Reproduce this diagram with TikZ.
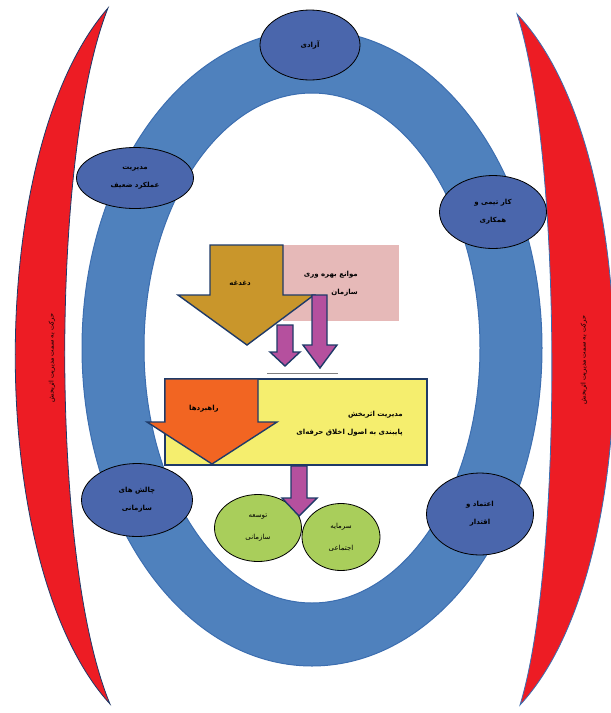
\documentclass[tikz,border=0pt]{standalone}
\usepackage{fontspec}
\usepackage{tikz}
\usetikzlibrary{shapes,shapes.geometric}
\newfontfamily\farsi[Script=Arabic]{DejaVu Sans}
\TeXXeTstate=1
\newcommand{\fatext}[1]{\beginR #1\endR}
\definecolor{redband}{HTML}{ED1C24}
\definecolor{redline}{HTML}{1F3A68}
\definecolor{ringblue}{HTML}{4F81BD}
\definecolor{ringline}{HTML}{3C6EB0}
\definecolor{bubbleblue}{HTML}{4A66AC}
\definecolor{bubblegreen}{HTML}{A9CE5B}
\definecolor{pinkbox}{HTML}{E6B9B8}
\definecolor{goldfill}{HTML}{C9962B}
\definecolor{orangefill}{HTML}{F26522}
\definecolor{yellowbox}{HTML}{F5EE6E}
\definecolor{magentafill}{HTML}{B5509E}
\definecolor{arrowline}{HTML}{1F3A68}

\begin{document}
\begin{tikzpicture}[x=1pt, y=-1pt,
		bubble/.style={ellipse, draw=black, line width=0.8pt, fill=bubbleblue, inner sep=0pt, align=center, font=\farsi\bfseries\fontsize{7}{18}\selectfont},
		greenbubble/.style={bubble, fill=bubblegreen, font=\farsi\fontsize{7}{22}\selectfont},
		blockarrow/.style={draw=arrowline, line width=1.4pt, line join=miter},
		fatag/.style={font=\farsi\bfseries\fontsize{7}{18}\selectfont, align=right, inner sep=0pt},
		sidetext/.style={font=\farsi\fontsize{6.5}{7}\selectfont, rotate=90, inner sep=0pt}]
		\useasboundingbox (0,0) rectangle (611,713);
		
		% red bands
		\draw[fill=redband, draw=redline, line width=0.8pt] (108,8) .. controls (-16,150) and (-16,566) .. (110,704) .. controls (50,560) and (50,155) .. (108,8) -- cycle;
		\draw[fill=redband, draw=ringline, line width=0.8pt] (517,14) .. controls (646,150) and (646,570) .. (520,705) .. controls (563,565) and (563,155) .. (517,14) -- cycle;
		\node[sidetext] (s1) at (52,358) {\fatext{حرکت به سمت مدیریت اثربخش}};
		\node[sidetext] (s2) at (584,360) {\fatext{حرکت به سمت مدیریت اثربخش}};
		
		% ring
		\draw[fill=ringblue, draw=ringline, line width=1pt, even odd rule] (312,348) ellipse [x radius=230pt, y radius=318pt] (312,348) ellipse [x radius=168pt, y radius=255pt];
		
		\node[bubble, minimum width=100pt, minimum height=70pt] (e1) at (310,45) {\fatext{آزادی}};
		\node[bubble, minimum width=117pt, minimum height=61pt] (e2) at (135,178) {\fatext{مدیریت}\\\fatext{عملکرد ضعیف}};
		\node[bubble, minimum width=107pt, minimum height=73pt] (e3) at (493,212) {\fatext{کار تیمی و}\\\fatext{همکاری}};
		\node[bubble, minimum width=111pt, minimum height=73pt] (e4) at (137,500) {\fatext{چالش های}\\\fatext{سازمانی}};
		\node[bubble, minimum width=107pt, minimum height=82pt] (e5) at (480,514) {\fatext{اعتماد و}\\\fatext{اقتدار}};
		
		% upper boxes
		\node[fill=pinkbox, minimum width=116pt, minimum height=76pt, inner sep=0pt] (pb) at (341,283) {};
		\node[fatag, anchor=east] (pt) at (358,284) {\fatext{موانع بهره وری}\\\fatext{سازمان}};
		\draw[blockarrow, fill=goldfill] (210,245) -- (283,245) -- (283,295) -- (314,295) -- (247,345) -- (178,295) -- (210,295) -- cycle;
		\node[fatag] (dg) at (240,283) {\fatext{دغدغه}};
		
		% lower box
		\node[draw=arrowline, line width=1.4pt, fill=yellowbox, minimum width=262pt, minimum height=86pt, inner sep=0pt] (yb) at (296,422) {};
		\draw[blockarrow, fill=orangefill] (165,379) -- (258,379) -- (258,422) -- (277,422) -- (212,464) -- (147,422) -- (165,422) -- cycle;
		\node[fatag] (rh) at (204,409) {\fatext{راهبردها}};
		\node[fatag, anchor=east] (yt) at (403,424) {\fatext{مدیریت اثربخش}\\\fatext{پایبندی به اصول اخلاق حرفه‌ای}};
		
		\draw[gray, line width=1pt] (267,373) -- (338,373);
		\draw[blockarrow, fill=magentafill] (277,325) -- (293,325) -- (293,352) -- (300,352) -- (285,366) -- (270,352) -- (277,352) -- cycle;
		\draw[blockarrow, fill=magentafill] (312,295) -- (327,295) -- (327,345) -- (337,345) -- (320,368) -- (303,345) -- (312,345) -- cycle;
		
		% bottom
		\node[greenbubble, minimum width=87pt, minimum height=67pt] (g1) at (258,528) {\fatext{توسعه}\\\fatext{سازمانی}};
		\node[greenbubble, minimum width=78pt, minimum height=67pt] (g2) at (341,537) {\fatext{سرمایه}\\\fatext{اجتماعی}};
		\draw[blockarrow, fill=magentafill] (291,466) -- (307,466) -- (307,498) -- (317,498) -- (299,516) -- (282,498) -- (291,498) -- cycle;
	\end{tikzpicture}
\end{document}
